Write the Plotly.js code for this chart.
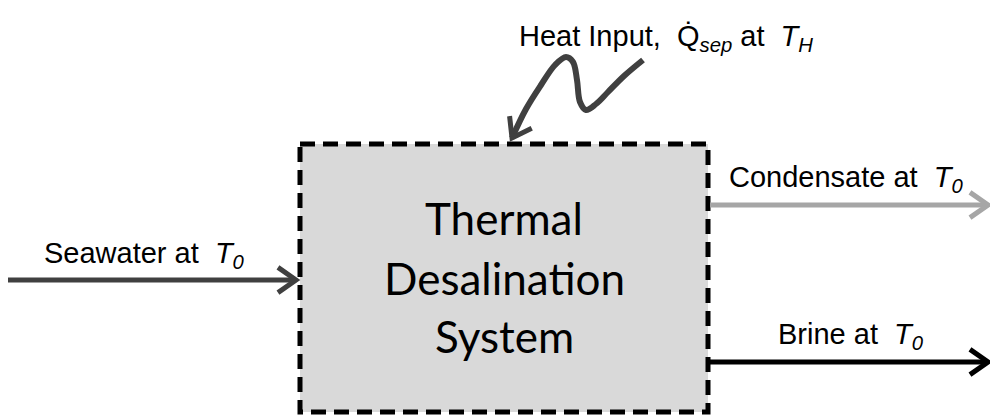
<!DOCTYPE html>
<html><head><meta charset="utf-8">
<script src="https://cdn.plot.ly/plotly-3.0.1.min.js"></script>
<style>html,body{margin:0;padding:0;background:#fff}#c{width:990px;height:417px}</style>
</head><body><div id="c"></div>
<script>
// Diagram data (in a 990 x 417 coordinate space)
const boxLines = ['Thermal', 'Desalination', 'System'];
const boxCorners = [300, 144, 708, 412];           // x0, y0, x1, y1
const flowLabels = ['Seawater at&nbsp;&nbsp;<i>T<sub>0</sub></i>', 'Condensate at&nbsp;&nbsp;<i>T<sub>0</sub></i>', 'Brine at&nbsp;&nbsp;<i>T<sub>0</sub></i>'];
const flowStartX = [8, 710, 708];
const flowEndX = [296, 988, 988];
const flowY = [280, 205, 362];
const flowLabelX = [144, 846, 851];
const flowLabelY = [255, 179, 336];
const heatLabel = 'Heat Input,&nbsp;&nbsp;Q\u0307<i><sub>sep</sub></i>&nbsp;at&nbsp;&nbsp;<i>T<sub>H</sub></i>';
const heatX = [643, 624, 608, 596, 586, 580, 577, 573, 566, 555, 541, 526, 512];
const heatY = [60, 76, 92, 104, 110, 102, 80, 62, 57, 65, 85, 109, 138];

const colors = ['#404040', '#a6a6a6', '#000000'];
const traces = [];
function chevron(tx, ty, dx, dy, color) {
  const L = Math.hypot(dx, dy); const ux = dx / L, uy = dy / L;
  const len = 22, ang = 35 * Math.PI / 180;
  const c = Math.cos(ang), s = Math.sin(ang);
  const ax = -(ux * c - uy * s) * len, ay = -(ux * s + uy * c) * len;
  const bx = -(ux * c + uy * s) * len, by = -(-ux * s + uy * c) * len;
  traces.push({x: [tx + ax, tx, tx + bx], y: [ty + ay, ty, ty + by], mode: 'lines',
    line: {color: color, width: 5}, hoverinfo: 'skip', showlegend: false});
}
for (let i = 0; i < flowLabels.length; i++) {
  traces.push({x: [flowStartX[i], flowEndX[i] - 2], y: [flowY[i], flowY[i]], mode: 'lines',
    line: {color: colors[i], width: 5}, hoverinfo: 'skip', showlegend: false});
  chevron(flowEndX[i], flowY[i], 1, 0, colors[i]);
}
traces.push({x: heatX, y: heatY, mode: 'lines', line: {color: '#404040', width: 6, shape: 'spline', smoothing: 1},
  hoverinfo: 'skip', showlegend: false});
const n = heatX.length;
chevron(heatX[n - 1], heatY[n - 1], heatX[n - 1] - heatX[n - 3], heatY[n - 1] - heatY[n - 3], '#404040');

const annotations = [];
const lineY = [218, 278, 336];
boxLines.forEach((t, i) => annotations.push({x: (boxCorners[0] + boxCorners[2]) / 2, y: lineY[i], text: t,
  showarrow: false, xanchor: 'center', yanchor: 'middle', font: {family: 'Lato', size: 44, color: '#000'}}));
flowLabels.forEach((t, i) => annotations.push({x: flowLabelX[i], y: flowLabelY[i], text: t, showarrow: false,
  xanchor: 'center', yanchor: 'middle', font: {family: 'Liberation Sans, Arial', size: 29, color: '#000'}}));
annotations.push({x: 666, y: 38, text: heatLabel, showarrow: false, xanchor: 'center', yanchor: 'middle',
  font: {family: 'Liberation Sans, Arial', size: 29, color: '#000'}});

const layout = {
  width: 990, height: 417, margin: {l: 0, r: 0, t: 0, b: 0},
  paper_bgcolor: '#fff', plot_bgcolor: '#fff',
  xaxis: {range: [0, 990], visible: false, fixedrange: true},
  yaxis: {range: [417, 0], visible: false, fixedrange: true},
  shapes: [{type: 'rect', layer: 'below', x0: boxCorners[0], y0: boxCorners[1], x1: boxCorners[2], y1: boxCorners[3],
    fillcolor: '#d9d9d9', line: {color: '#000', width: 5, dash: '15px,8px'}}],
  annotations: annotations, showlegend: false
};
Plotly.newPlot('c', traces, layout, {displayModeBar: false, staticPlot: true});
</script></body></html>
